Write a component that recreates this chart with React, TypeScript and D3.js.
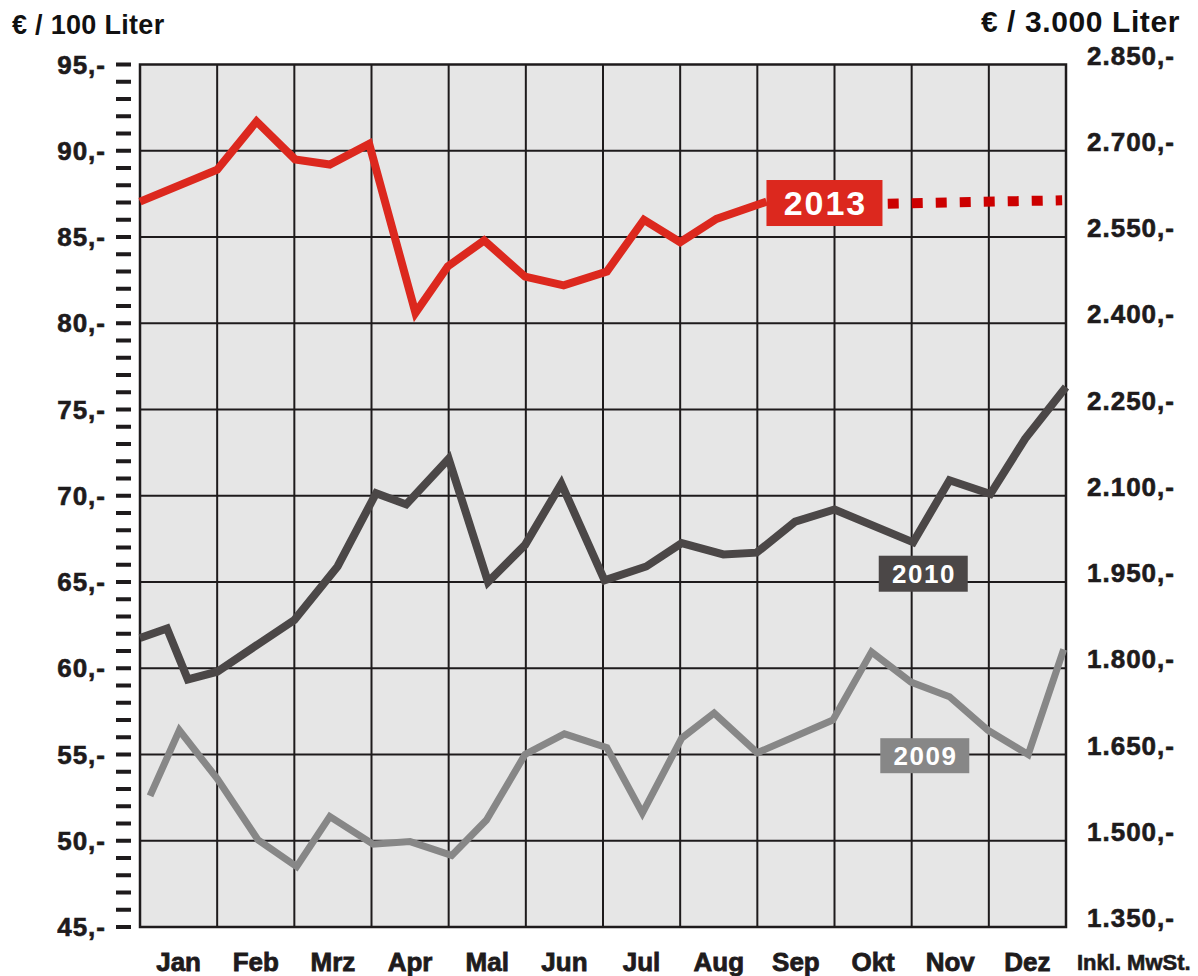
import React, { useEffect, useRef } from 'react';
import * as d3 from 'd3';

// month labels (columns), spelled as printed in the source
const months = ['Jan', 'Feb', 'Mrz', 'Apr', 'Mal', 'Jun', 'Jul', 'Aug', 'Sep', 'Okt', 'Nov', 'Dez'];
// € / 100 Liter ticks on the left axis
const leftTicks = [45, 50, 55, 60, 65, 70, 75, 80, 85, 90, 95];

// [month position, € per 100 Liter]
const series2009: [number, number][] = [
  [0.13, 52.6], [0.51, 56.4], [1.0, 53.6], [1.53, 50.05], [2.03, 48.5], [2.46, 51.4],
  [3.02, 49.8], [3.5, 49.95], [4.04, 49.15], [4.49, 51.2], [4.99, 55.0], [5.5, 56.2],
  [6.05, 55.4], [6.51, 51.6], [7.02, 55.95], [7.44, 57.4], [8.0, 55.1], [8.98, 57.0],
  [9.48, 60.95], [9.99, 59.2], [10.49, 58.35], [10.99, 56.4], [11.51, 55.0], [11.97, 61.1],
];

const series2010: [number, number][] = [
  [0, 61.75], [0.35, 62.3], [0.62, 59.35], [1.0, 59.8], [2.0, 62.8], [2.56, 65.9],
  [3.06, 70.15], [3.45, 69.5], [4.0, 72.15], [4.51, 65.0], [4.99, 67.15], [5.46, 70.7],
  [6.02, 65.1], [6.56, 65.9], [7.02, 67.25], [7.56, 66.6], [7.99, 66.7], [8.49, 68.5],
  [9.0, 69.2], [10.02, 67.3], [10.49, 70.9], [11.02, 70.1], [11.47, 73.3], [12.0, 76.3],
];

const series2013: [number, number][] = [
  [0, 87.05], [1.0, 88.9], [1.51, 91.7], [2.01, 89.5], [2.46, 89.2], [2.97, 90.4],
  [3.57, 80.6], [3.99, 83.3], [4.46, 84.8], [4.99, 82.7], [5.49, 82.2], [6.05, 83.0],
  [6.53, 86.0], [7.0, 84.7], [7.47, 86.05], [8.12, 87.05],
];

// dotted outlook for the rest of 2013
const forecast2013: [number, number][] = [[9.69, 86.93], [11.95, 87.13]];

const W = 1198;
const H = 976;
const plot = { left: 140, right: 1066, top: 64.5, bottom: 927 };

const fmtDE = d3.formatLocale({ decimal: ',', thousands: '.', grouping: [3], currency: ['', '€'] }).format(',');

const App = () => {
  const svgRef = useRef<SVGSVGElement>(null);

  useEffect(() => {
    const svg = d3.select(svgRef.current);
    svg.selectAll('*').remove();

    const x = d3.scaleLinear().domain([0, 12]).range([plot.left, plot.right]);
    const y = d3.scaleLinear().domain([45, 95]).range([plot.bottom, plot.top]);
    const font = '"Liberation Sans", Arial, sans-serif';
    const ink = '#1e1b1c';

    // plot background
    svg.append('rect')
      .attr('x', plot.left).attr('y', plot.top)
      .attr('width', plot.right - plot.left).attr('height', plot.bottom - plot.top)
      .attr('fill', '#e6e6e6');

    // grid
    svg.append('g').selectAll('line')
      .data(leftTicks.slice(1, -1))
      .join('line')
      .attr('x1', plot.left).attr('x2', plot.right)
      .attr('y1', d => y(d)).attr('y2', d => y(d))
      .attr('stroke', ink).attr('stroke-width', 2);

    svg.append('g').selectAll('line')
      .data(d3.range(1, 12))
      .join('line')
      .attr('x1', d => x(d)).attr('x2', d => x(d))
      .attr('y1', plot.top).attr('y2', plot.bottom)
      .attr('stroke', ink).attr('stroke-width', 2);

    svg.append('rect')
      .attr('x', plot.left).attr('y', plot.top)
      .attr('width', plot.right - plot.left).attr('height', plot.bottom - plot.top)
      .attr('fill', 'none').attr('stroke', ink).attr('stroke-width', 2.5);

    // left minor/major tick dashes
    svg.append('g').selectAll('rect')
      .data(d3.range(45, 96, 1))
      .join('rect')
      .attr('x', 116).attr('y', d => y(d) - 2)
      .attr('width', 15).attr('height', 4)
      .attr('fill', ink);

    // left labels
    svg.append('g').selectAll('text')
      .data(leftTicks)
      .join('text')
      .attr('x', 106).attr('y', d => y(d) + 9)
      .attr('text-anchor', 'end')
      .text(d => `${d},-`)
      .style('font-family', font).style('font-weight', 700).style('font-size', '26px')
      .style('letter-spacing', '1px')
      .attr('fill', ink).attr('stroke', ink).attr('stroke-width', 0.6);

    // right labels (per 3.000 Liter)
    svg.append('g').selectAll('text')
      .data(leftTicks)
      .join('text')
      .attr('x', 1087).attr('y', d => y(d))
      .text(d => `${fmtDE(d * 30)},-`)
      .style('font-family', font).style('font-weight', 700).style('font-size', '26px')
      .style('letter-spacing', '1px')
      .attr('fill', ink).attr('stroke', ink).attr('stroke-width', 0.6);

    // month labels
    svg.append('g').selectAll('text')
      .data(months)
      .join('text')
      .attr('x', (d, i) => x(i + 0.5)).attr('y', 971)
      .attr('text-anchor', 'middle')
      .text(d => d)
      .style('font-family', font).style('font-weight', 700).style('font-size', '26px')
      .attr('fill', ink).attr('stroke', ink).attr('stroke-width', 0.8);

    svg.append('text')
      .attr('x', 1077).attr('y', 970)
      .text('Inkl. MwSt.')
      .style('font-family', font).style('font-weight', 700).style('font-size', '22px')
      .attr('fill', ink).attr('stroke', ink).attr('stroke-width', 0.6);

    // axis titles
    svg.append('text')
      .attr('x', 12).attr('y', 34)
      .text('€ / 100 Liter')
      .style('font-family', font).style('font-weight', 700).style('font-size', '27px')
      .style('letter-spacing', '0.3px')
      .attr('fill', '#111');

    svg.append('text')
      .attr('x', 1180).attr('y', 32)
      .attr('text-anchor', 'end')
      .text('€ / 3.000 Liter')
      .style('font-family', font).style('font-weight', 700).style('font-size', '30px')
      .style('letter-spacing', '0.6px')
      .attr('fill', '#111');

    // lines
    const line = d3.line<[number, number]>().x(d => x(d[0])).y(d => y(d[1]));
    const drawLine = (data: [number, number][], color: string, width: number) =>
      svg.append('path')
        .attr('d', line(data))
        .attr('fill', 'none')
        .attr('stroke', color)
        .attr('stroke-width', width)
        .attr('stroke-linejoin', 'miter')
        .attr('stroke-miterlimit', 3);

    drawLine(series2009, '#878787', 7);
    drawLine(series2010, '#4b4747', 8);
    drawLine(series2013, '#dc281e', 8);

    svg.append('path')
      .attr('d', line(forecast2013))
      .attr('fill', 'none')
      .attr('stroke', '#cc0000')
      .attr('stroke-width', 10)
      .attr('stroke-dasharray', '11 13');

    // year tags
    const tags = [
      { text: '2013', t: 8.87, v: 86.97, w: 116, h: 46, fill: '#dc281e', size: 34, spacing: 2 },
      { text: '2010', t: 10.15, v: 65.48, w: 89, h: 36, fill: '#4b4747', size: 26, spacing: 1.5 },
      { text: '2009', t: 10.17, v: 54.93, w: 89, h: 35, fill: '#878787', size: 26, spacing: 1.5 },
    ];
    tags.forEach(tag => {
      const cx = x(tag.t);
      const cy = y(tag.v);
      svg.append('rect')
        .attr('x', cx - tag.w / 2).attr('y', cy - tag.h / 2)
        .attr('width', tag.w).attr('height', tag.h)
        .attr('fill', tag.fill);
      svg.append('text')
        .attr('x', cx + tag.spacing / 2).attr('y', cy + tag.size * 0.36)
        .attr('text-anchor', 'middle')
        .text(tag.text)
        .style('font-family', font).style('font-weight', 700).style('font-size', `${tag.size}px`)
        .style('letter-spacing', `${tag.spacing}px`)
        .attr('fill', '#fff');
    });
  }, []);

  return (
    <div style={{ position: 'absolute', left: 0, top: 0, width: W, height: H, background: '#fff' }}>
      <svg ref={svgRef} width={W} height={H} />
    </div>
  );
};

export default App;
